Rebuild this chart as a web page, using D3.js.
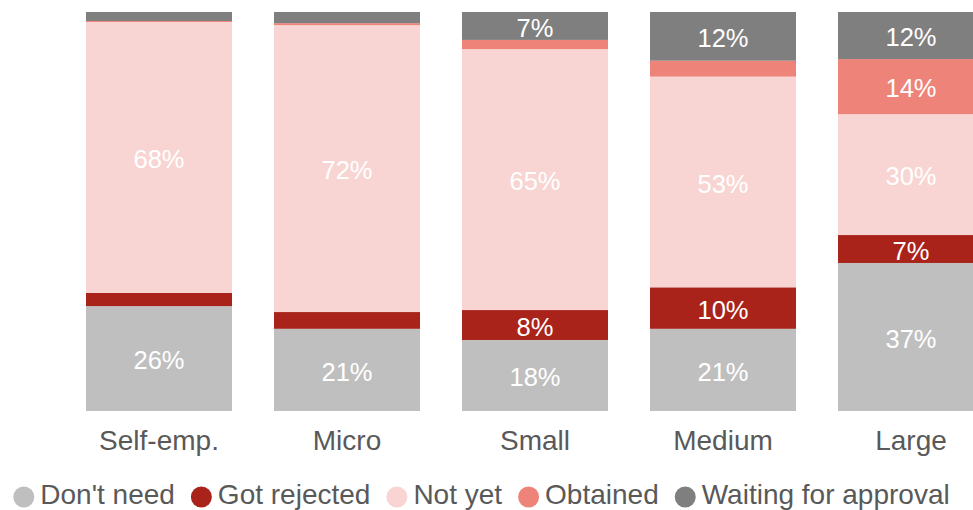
<!DOCTYPE html>
<html>
<head>
<meta charset="utf-8">
<script src="https://cdn.jsdelivr.net/npm/d3@7"></script>
<style>
  body { margin: 0; background: #fff; }
  svg { display: block; font-family: "Liberation Sans", Arial, sans-serif; }
</style>
</head>
<body>
<svg class="main-graphic"></svg>
<script>
var categories = ["Self-emp.", "Micro", "Small", "Medium", "Large"];
var seriesNames = ["Don't need", "Got rejected", "Not yet", "Obtained", "Waiting for approval"];
var colors = ["#bfbfbf", "#a9231a", "#f8d5d2", "#ee837a", "#7f7f7f"];

// percent per category, same order as categories
var dontNeed    = [26.3, 20.6, 17.8, 20.6, 37.1];
var gotRejected = [3.3, 4.2, 7.5, 10.4, 7.0];
var notYet      = [67.9, 71.9, 65.4, 52.8, 30.3];
var obtained    = [0.25, 0.5, 2.3, 4.0, 13.8];
var waiting     = [2.25, 2.8, 7.0, 12.2, 11.8];

var seriesValues = [dontNeed, gotRejected, notYet, obtained, waiting];

var width = 973, height = 510;

var rows = categories.map(function(c, i) {
  var r = {cat: c};
  seriesNames.forEach(function(s, j) { r[s] = seriesValues[j][i]; });
  return r;
});

var svg = d3.select(".main-graphic")
    .attr("width", width)
    .attr("height", height);

var x = d3.scaleBand()
    .domain(categories)
    .range([86, 984])
    .paddingInner(0.2234)
    .paddingOuter(0);

var y = d3.scaleLinear()
    .domain([0, 100])
    .range([411, 12]);

var stacked = d3.stack().keys(seriesNames)(rows);

var layers = svg.selectAll(".layer")
    .data(stacked)
  .enter().append("g")
    .attr("class", "layer")
    .attr("fill", function(d, i) { return colors[i]; });

layers.selectAll("rect")
    .data(function(d) { return d; })
  .enter().append("rect")
    .attr("x", function(d) { return x(d.data.cat); })
    .attr("width", x.bandwidth())
    .attr("y", function(d) { return y(d[1]); })
    .attr("height", function(d) { return y(d[0]) - y(d[1]); });

layers.selectAll("text")
    .data(function(d) { return d.filter(function(p) { return p[1] - p[0] >= 5; }); })
  .enter().append("text")
    .attr("x", function(d) { return x(d.data.cat) + x.bandwidth() / 2; })
    .attr("y", function(d) { return (y(d[0]) + y(d[1])) / 2 + 1.5; })
    .attr("dy", "0.36em")
    .attr("text-anchor", "middle")
    .attr("fill", "#ffffff")
    .attr("font-size", "25.5px")
    .text(function(d) { return Math.round(d[1] - d[0]) + "%"; });

// x axis
var xAxis = svg.append("g")
    .attr("transform", "translate(0,411)")
    .call(d3.axisBottom(x).tickSize(0).tickPadding(19));
xAxis.select(".domain").remove();
xAxis.selectAll("text")
    .attr("font-size", "28px")
    .attr("font-family", "Liberation Sans, Arial, sans-serif")
    .attr("fill", "#595959");

// legend
var legend = svg.append("g").attr("class", "legend");
var items = legend.selectAll(".item")
    .data(seriesNames)
  .enter().append("g")
    .attr("class", "item");

items.append("circle")
    .attr("r", 10.5)
    .attr("cx", 10.5)
    .attr("cy", 3)
    .attr("fill", function(d, i) { return colors[i]; });

items.append("text")
    .attr("x", 27)
    .attr("dy", "0.36em")
    .attr("font-size", "28px")
    .attr("fill", "#595959")
    .text(function(d) { return d; });

var offset = 0;
var offsets = [];
items.each(function() {
  offsets.push(offset);
  var w = d3.select(this).select("text").node().getComputedTextLength();
  offset += 27 + w + 16;
});
var total = offset - 16;
items.attr("transform", function(d, i) { return "translate(" + offsets[i] + ",0)"; });
legend.attr("transform", "translate(" + ((width - total) / 2 - 5) + ",494)");
</script>
</body>
</html>
